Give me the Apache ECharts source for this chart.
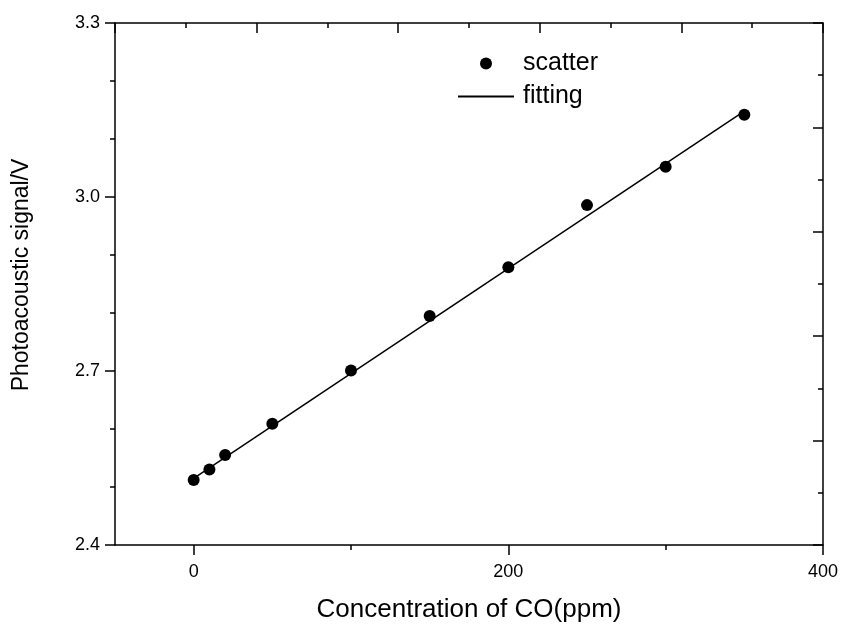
<!DOCTYPE html>
<html>
<head>
<meta charset="utf-8">
<script src="https://cdn.jsdelivr.net/npm/echarts@6/dist/echarts.min.js"></script>
<style>
  html, body { margin: 0; padding: 0; background: #fff; }
  #main { width: 842px; height: 626px; }
</style>
</head>
<body>
<div id="main"></div>
<script>
// data
var concentration = [0, 10, 20, 50, 100, 150, 200, 250, 300, 350];
var signal = [2.512, 2.530, 2.555, 2.609, 2.701, 2.795, 2.879, 2.986, 3.052, 3.142];
// fitted line end points
var fitX = [0, 350];
var fitY = [2.515, 3.148];
var xMajorTicks = [0, 200, 400];
var xMinorTicks = [100, 300];

var scatterData = concentration.map(function (c, i) {
  return [c, signal[i]];
});
var fitData = fitX.map(function (c, i) {
  return [c, fitY[i]];
});

var myChart = echarts.init(document.getElementById("main"));
var fontFamily = "Liberation Sans, Arial, sans-serif";
var black = "#000";

option = {
  backgroundColor: "#fff",
  animation: false,
  textStyle: { fontFamily: fontFamily, color: black },
  grid: {
    left: 115,
    right: 19,
    top: 23,
    bottom: 81,
    containLabel: false,
    outerBoundsMode: "none",
  },
  legend: {
    left: 452,
    top: 46,
    orient: "vertical",
    itemWidth: 56,
    itemHeight: 12,
    itemGap: 8,
    textStyle: {
      fontFamily: fontFamily,
      fontSize: 25,
      color: black,
      padding: [0, 0, 0, 4],
    },
    data: [
      { name: "scatter", icon: "circle" },
      {
        name: "fitting",
        itemStyle: { color: "rgba(0,0,0,0)", borderWidth: 0 },
      },
    ],
  },
  xAxis: [
    {
      type: "value",
      position: "bottom",
      min: -50,
      max: 400,
      name: "Concentration of CO(ppm)",
      nameLocation: "middle",
      nameGap: 52,
      nameTextStyle: { fontFamily: fontFamily, fontSize: 26, color: black },
      axisLine: { onZero: false, lineStyle: { color: black, width: 1.5 } },
      axisTick: {
        customValues: xMajorTicks,
        length: 10,
        lineStyle: { color: black, width: 1.5 },
      },
      axisLabel: {
        customValues: xMajorTicks,
        margin: 18,
        fontSize: 18,
        color: black,
        fontFamily: fontFamily,
      },
      splitLine: { show: false },
    },
    {
      type: "value",
      position: "bottom",
      min: -50,
      max: 400,
      axisLine: { show: false, onZero: false },
      axisTick: {
        customValues: xMinorTicks,
        length: 5,
        lineStyle: { color: black, width: 1.5 },
      },
      axisLabel: { show: false },
      splitLine: { show: false },
    },
    {
      type: "value",
      position: "top",
      min: 0,
      max: 10,
      interval: 2,
      axisLine: { onZero: false, lineStyle: { color: black, width: 1.5 } },
      axisTick: { inside: true, length: 10, lineStyle: { color: black, width: 1.5 } },
      minorTick: { show: true, splitNumber: 2, length: 5, lineStyle: { color: black, width: 1.5 } },
      axisLabel: { show: false },
      splitLine: { show: false },
    },
  ],
  yAxis: [
    {
      type: "value",
      position: "left",
      min: 2.4,
      max: 3.3,
      interval: 0.3,
      name: "Photoacoustic signal/V",
      nameLocation: "middle",
      nameGap: 82,
      nameTextStyle: {
        fontFamily: fontFamily,
        fontSize: 23,
        color: black,
        padding: [0, 0, 0, 18],
      },
      axisLine: { show: true, onZero: false, lineStyle: { color: black, width: 1.5 } },
      axisTick: { show: true, length: 10, lineStyle: { color: black, width: 1.5 } },
      minorTick: { show: true, splitNumber: 3, length: 5, lineStyle: { color: black, width: 1.5 } },
      axisLabel: {
        margin: 15,
        fontSize: 18,
        color: black,
        fontFamily: fontFamily,
        formatter: function (v) {
          return v.toFixed(1);
        },
      },
      splitLine: { show: false },
    },
    {
      type: "value",
      position: "right",
      min: 0,
      max: 10,
      interval: 2,
      axisLine: { show: true, onZero: false, lineStyle: { color: black, width: 1.5 } },
      axisTick: { show: true, inside: true, length: 10, lineStyle: { color: black, width: 1.5 } },
      minorTick: { show: true, splitNumber: 2, length: 5, lineStyle: { color: black, width: 1.5 } },
      axisLabel: { show: false },
      splitLine: { show: false },
    },
  ],
  series: [
    {
      name: "scatter",
      type: "scatter",
      xAxisIndex: 0,
      yAxisIndex: 0,
      symbol: "circle",
      symbolSize: 12,
      itemStyle: { color: black, opacity: 1 },
      data: scatterData,
      z: 3,
    },
    {
      name: "fitting",
      type: "line",
      xAxisIndex: 0,
      yAxisIndex: 0,
      symbol: "none",
      lineStyle: { color: black, width: 1.5 },
      itemStyle: { color: black },
      data: fitData,
      z: 2,
    },
  ],
};
myChart.setOption(option);
</script>
</body>
</html>
